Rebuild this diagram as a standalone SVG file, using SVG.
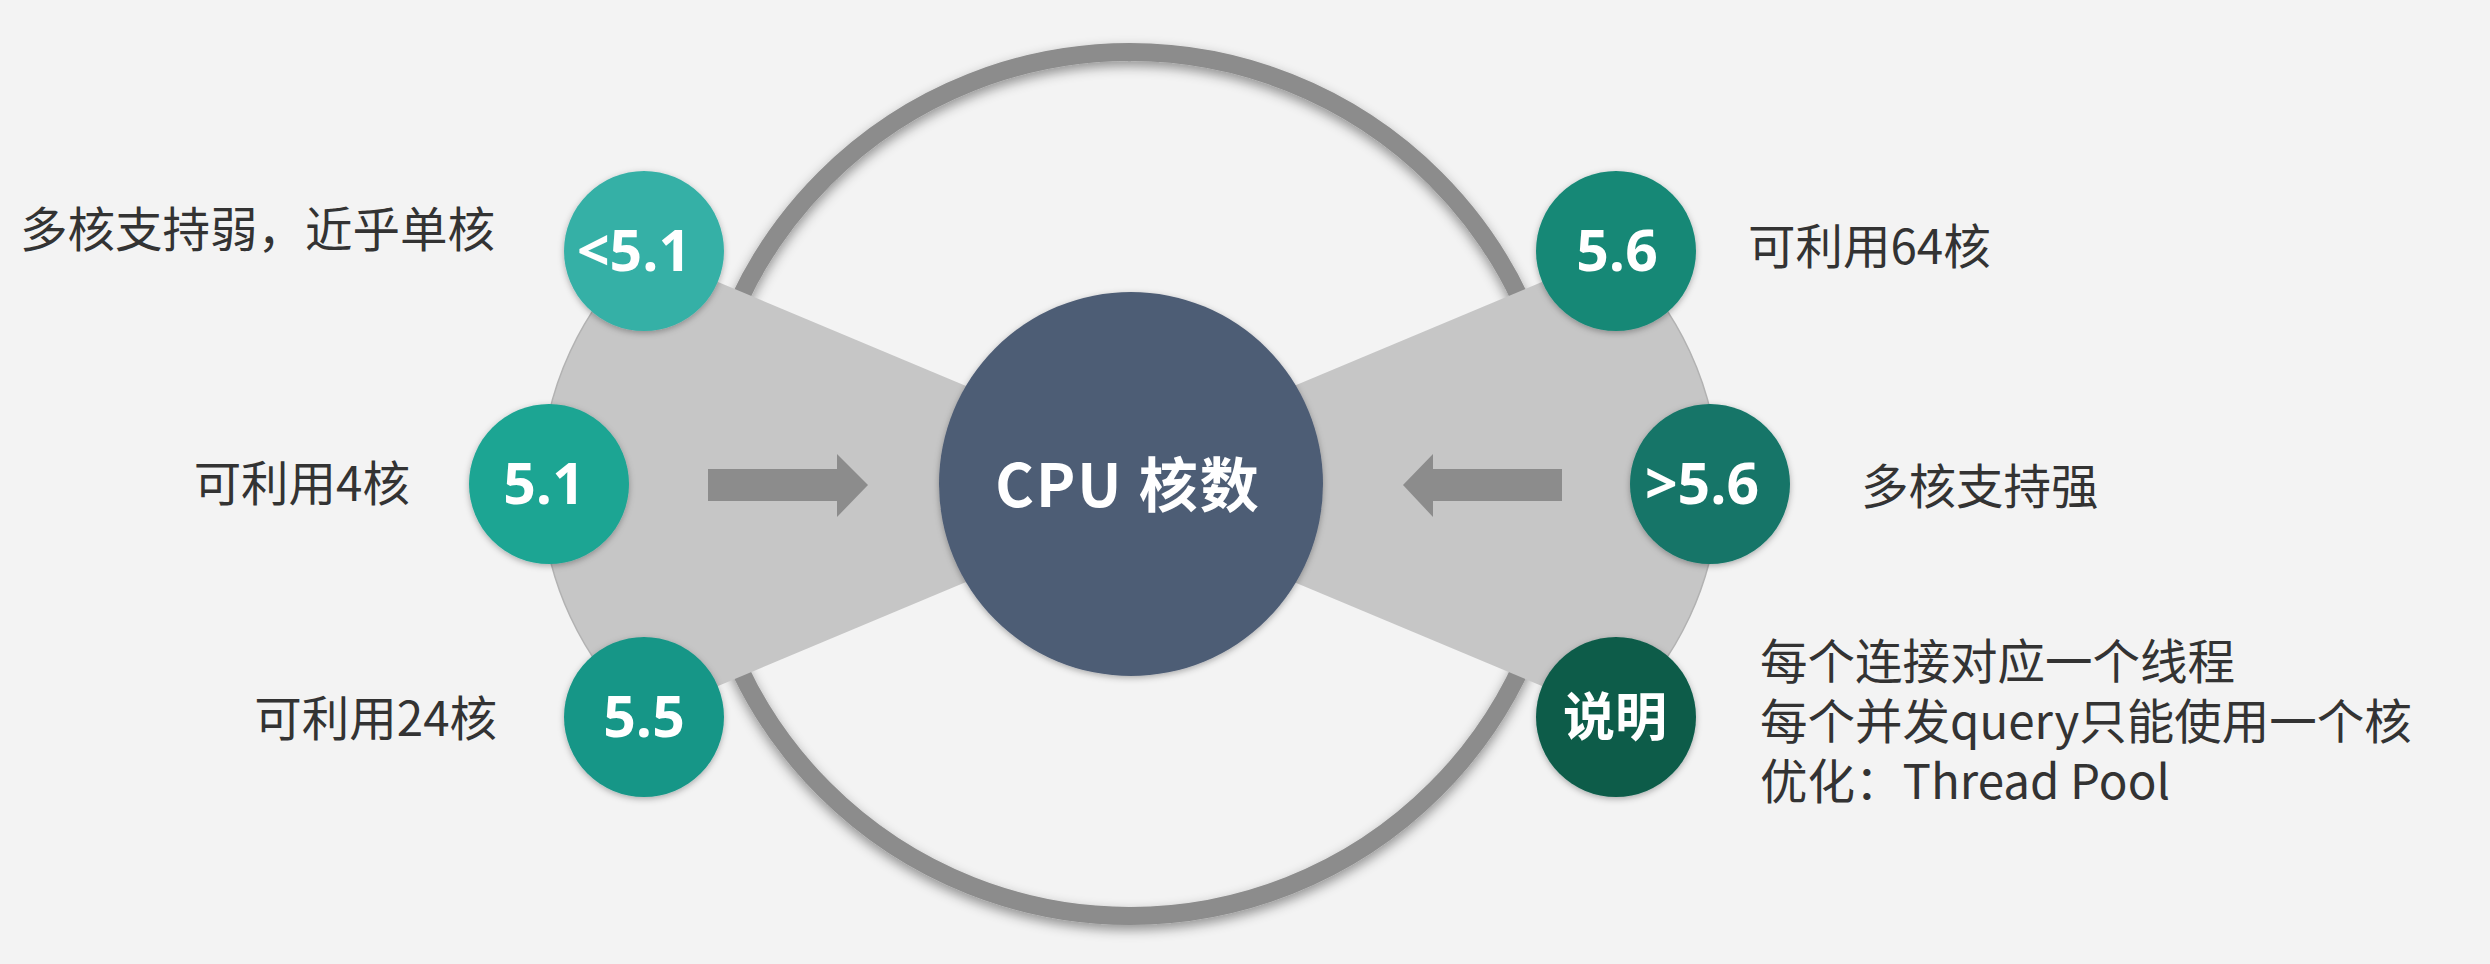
<svg xmlns="http://www.w3.org/2000/svg" width="2490" height="964" viewBox="0 0 2490 964">
  <defs>
    <filter id="ringShadow" x="-10%" y="-10%" width="120%" height="120%">
      <feDropShadow dx="0" dy="5" stdDeviation="6" flood-color="#000" flood-opacity="0.4"/>
    </filter>
    <filter id="nodeShadow" x="-20%" y="-20%" width="140%" height="140%">
      <feDropShadow dx="0" dy="2" stdDeviation="3" flood-color="#000" flood-opacity="0.3"/>
    </filter>
    <style>
      .bg { fill: #f3f3f3; }
      .ring { fill: none; stroke: #8c8c8c; stroke-width: 18; }
      .wedge { fill: #c6c6c6; }
      .wedgeEdge { fill: none; stroke: #b2b2b2; stroke-width: 1.5; }
      .arrow { fill: #8c8c8c; }
      .num { fill: #ffffff; font-family: "Open Sans", "Noto Sans", sans-serif; font-weight: 700; font-size: 57px; text-anchor: middle; }
      .numcjk { fill: #ffffff; font-family: "Noto Sans CJK SC", sans-serif; font-weight: 700; font-size: 52px; text-anchor: middle; }
      .center { fill: #ffffff; font-family: "Noto Sans CJK SC", sans-serif; font-weight: 700; font-size: 59px; letter-spacing: 2px; text-anchor: middle; }
      .label { fill: #333333; font-family: "Noto Sans CJK SC", sans-serif; font-size: 47.5px; }
      .end { text-anchor: end; }
    </style>
  </defs>

  <rect class="bg" x="0" y="0" width="2490" height="964"/>

  <g id="ring">
    <circle class="ring" cx="1130" cy="484" r="432" filter="url(#ringShadow)"/>
  </g>

  <g id="wedges">
    <path class="wedge" d="M 644 251 A 315 315 0 0 0 644 717 L 1200 484 Z"/>
    <path class="wedgeEdge" d="M 644 251 A 315 315 0 0 0 644 717"/>
    <path class="wedge" d="M 1616 251 A 315 315 0 0 1 1616 717 L 1060 484 Z"/>
    <path class="wedgeEdge" d="M 1616 251 A 315 315 0 0 1 1616 717"/>
  </g>

  <g id="connectors">
    <polygon class="arrow" points="708,469 837,469 837,454 868,485 837,517 837,501 708,501"/>
    <polygon class="arrow" points="1562,469 1433,469 1433,454 1403,485 1433,517 1433,501 1562,501"/>
  </g>

  <g id="node-cpu">
    <circle cx="1131" cy="484" r="192" fill="#4e5d75" filter="url(#nodeShadow)"/>
    <text class="center" x="1128" y="507">CPU 核数</text>
  </g>

  <g id="node-lt51">
    <circle cx="644" cy="251" r="80" fill="#36b0a6" filter="url(#nodeShadow)"/>
    <text class="num" x="634" y="271">&lt;5.1</text>
    <text class="label end" x="495" y="247">多核支持弱，近乎单核</text>
  </g>

  <g id="node-51">
    <circle cx="549" cy="484" r="80" fill="#1ba593" filter="url(#nodeShadow)"/>
    <text class="num" x="544" y="504">5.1</text>
    <text class="label end" x="410" y="501">可利用4核</text>
  </g>

  <g id="node-55">
    <circle cx="644" cy="717" r="80" fill="#189687" filter="url(#nodeShadow)"/>
    <text class="num" x="644" y="737">5.5</text>
    <text class="label end" x="497" y="736">可利用24核</text>
  </g>

  <g id="node-56">
    <circle cx="1616" cy="251" r="80" fill="#168876" filter="url(#nodeShadow)"/>
    <text class="num" x="1617" y="271">5.6</text>
    <text class="label" x="1748" y="264">可利用64核</text>
  </g>

  <g id="node-gt56">
    <circle cx="1710" cy="484" r="80" fill="#137567" filter="url(#nodeShadow)"/>
    <text class="num" x="1702" y="504">&gt;5.6</text>
    <text class="label" x="1861" y="504">多核支持强</text>
  </g>

  <g id="node-note">
    <circle cx="1616" cy="717" r="80" fill="#0b5c4a" filter="url(#nodeShadow)"/>
    <text class="numcjk" x="1615" y="736">说明</text>
    <text class="label" x="1760" y="679"><tspan x="1760" y="679">每个连接对应一个线程</tspan><tspan x="1760" y="739">每个并发query只能使用一个核</tspan><tspan x="1760" y="799">优化：Thread Pool</tspan></text>
  </g>
</svg>
